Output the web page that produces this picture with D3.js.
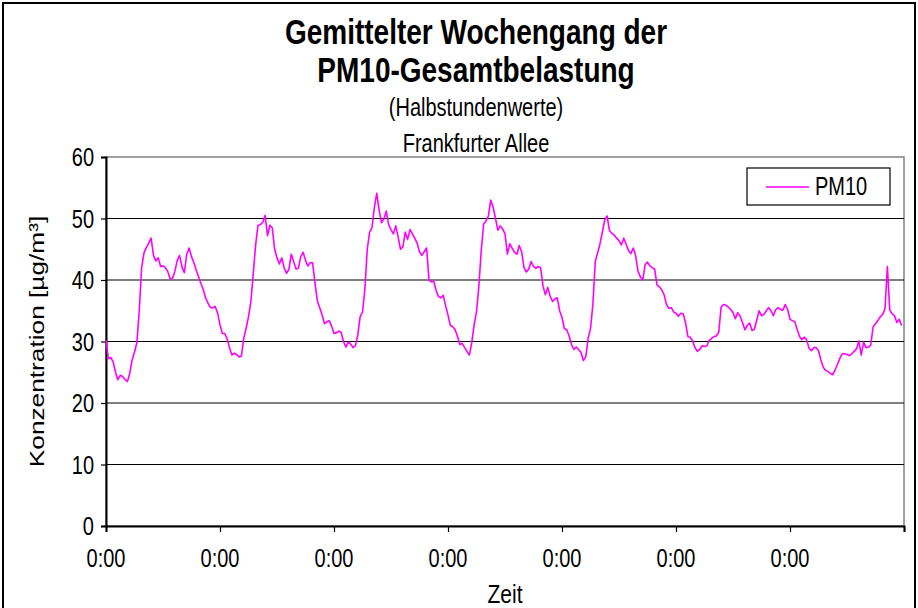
<!DOCTYPE html>
<html>
<head>
<meta charset="utf-8">
<script src="https://cdn.jsdelivr.net/npm/d3@7"></script>
<style>
  body { margin: 0; background: #fff; }
  svg { display: block; font-family: 'Liberation Sans', Arial, sans-serif; }
</style>
</head>
<body>
<div id="chart"></div>
<script>
// Halbstundenwerte, 48 je Tag
const day1 = [30.2, 27.2, 27.4, 26.7, 25.0, 23.8, 24.5, 24.3, 23.8, 23.5, 24.8, 27.0,
  28.3, 29.8, 35.0, 42.0, 44.4, 45.3, 46.0, 46.8, 44.0, 43.1, 43.6, 42.2,
  42.3, 42.0, 41.4, 40.2, 40.3, 41.4, 43.2, 44.0, 42.1, 41.2, 44.2, 45.2,
  43.8, 42.8, 41.6, 40.5, 39.4, 38.4, 37.0, 36.2, 35.5, 35.5, 35.7, 34.6];
const day2 = [32.7, 31.3, 31.3, 30.4, 29.0, 27.8, 28.1, 27.9, 27.5, 27.6, 30.5, 32.2,
  34.0, 36.5, 41.0, 45.7, 48.9, 49.0, 49.4, 50.5, 47.2, 48.9, 48.5, 45.0,
  43.6, 42.6, 43.6, 42.0, 41.1, 41.7, 44.2, 43.0, 41.8, 41.9, 43.8, 44.5,
  43.2, 42.3, 42.8, 42.8, 39.5, 36.6, 35.5, 34.3, 32.9, 33.2, 33.4, 32.5];
const day3 = [31.3, 31.4, 31.7, 31.5, 30.0, 29.1, 29.9, 29.6, 29.0, 29.3, 31.0, 34.0,
  34.8, 38.5, 45.0, 47.8, 48.5, 51.8, 54.1, 51.4, 49.3, 49.9, 51.2, 49.0,
  48.2, 47.5, 48.8, 47.0, 45.0, 45.4, 47.8, 46.6, 48.2, 47.5, 46.8, 46.0,
  44.6, 44.0, 44.6, 45.2, 40.0, 39.7, 39.8, 38.3, 37.3, 37.1, 37.5, 35.8];
const day4 = [34.3, 32.6, 32.4, 31.9, 30.8, 29.5, 29.7, 29.0, 28.4, 27.8, 29.8, 32.7,
  34.8, 39.0, 44.8, 49.1, 49.6, 50.4, 53.0, 51.8, 50.0, 48.1, 48.8, 48.3,
  47.5, 44.2, 45.9, 45.2, 44.5, 44.2, 45.6, 44.6, 42.0, 41.3, 41.8, 43.0,
  42.2, 41.9, 42.2, 42.0, 39.0, 37.6, 38.8, 37.4, 36.5, 36.9, 37.1, 35.0];
const day5 = [33.9, 32.1, 31.9, 30.9, 29.5, 28.7, 29.1, 28.7, 28.2, 26.9, 27.5, 30.5,
  32.1, 36.0, 43.0, 44.4, 45.9, 47.8, 49.8, 50.4, 48.0, 47.6, 47.3, 46.8,
  46.4, 45.7, 46.8, 45.8, 44.8, 44.3, 45.2, 44.0, 41.4, 40.5, 40.0, 42.5,
  42.9, 42.3, 42.0, 41.8, 39.2, 38.9, 38.4, 37.6, 36.0, 35.4, 35.5, 34.8];
const day6 = [34.6, 34.1, 34.6, 34.5, 33.1, 30.8, 30.7, 30.1, 29.0, 28.4, 28.7, 29.3,
  29.2, 29.3, 30.2, 30.5, 30.8, 30.9, 31.5, 35.6, 36.0, 35.9, 35.6, 35.2,
  34.7, 33.7, 34.7, 34.1, 33.1, 31.9, 32.6, 33.0, 31.8, 32.0, 33.5, 35.0,
  34.2, 34.4, 35.0, 35.5, 35.0, 34.2, 35.2, 35.5, 35.2, 35.1, 36.0, 35.2];
const day7 = [33.6, 33.4, 33.2, 32.0, 30.8, 30.3, 30.7, 30.3, 28.9, 28.5, 29.0, 29.0,
  28.5, 27.0, 25.8, 25.3, 25.1, 24.8, 24.6, 25.4, 26.3, 27.3, 28.0, 28.0,
  27.9, 27.7, 28.0, 28.4, 28.8, 30.1, 27.8, 29.9, 29.0, 29.1, 29.4, 32.4,
  32.9, 33.4, 34.0, 34.4, 35.3, 42.2, 35.1, 34.5, 34.2, 33.1, 33.6, 32.6];

const pm10 = [].concat(day1, day2, day3, day4, day5, day6, day7);
const dayLabels = ['0:00', '0:00', '0:00', '0:00', '0:00', '0:00', '0:00'];
const yTicks = [0, 10, 20, 30, 40, 50, 60];
const seriesName = 'PM10';

const width = 918, height = 608;
const margin = { top: 157, right: 14, bottom: 82, left: 106 };
const perDay = 48;
const stretch = 1.25; // Schrift im Original senkrecht gestreckt

const svg = d3.select('#chart').append('svg')
  .attr('width', width)
  .attr('height', height);

// text helper: stretched vertically like the original
function label(g, txt, px, py, size, opts = {}) {
  const t = g.append('text')
    .attr('transform', `translate(${px},${py}) scale(1,${stretch})` + (opts.rotate ? ` rotate(${opts.rotate})` : ''))
    .attr('text-anchor', opts.anchor || 'middle')
    .style('font-size', size + 'px')
    .style('font-weight', opts.bold ? 'bold' : 'normal')
    .attr('fill', '#000')
    .text(txt);
  return t;
}

// outer frame
svg.append('rect')
  .attr('x', 3).attr('y', 3)
  .attr('width', width - 6).attr('height', height + 20)
  .attr('fill', 'none')
  .attr('stroke', '#000')
  .attr('stroke-width', 2);

const x = d3.scaleLinear()
  .domain([0, pm10.length])
  .range([margin.left, width - margin.right]);

const y = d3.scaleLinear()
  .domain([0, 60])
  .range([height - margin.bottom, margin.top]);

// titles
label(svg, 'Gemittelter Wochengang der', 476, 44, 28, { bold: true });
label(svg, 'PM10-Gesamtbelastung', 476, 82, 28, { bold: true });
label(svg, '(Halbstundenwerte)', 476, 116, 20);
label(svg, 'Frankfurter Allee', 476, 152, 20);

// plot area border (gray top/right)
svg.append('rect')
  .attr('x', x.range()[0]).attr('y', y(60))
  .attr('width', x.range()[1] - x.range()[0])
  .attr('height', y(0) - y(60))
  .attr('fill', '#fff')
  .attr('stroke', '#808080')
  .attr('stroke-width', 1.5);

// gridlines
svg.append('g')
  .selectAll('line')
  .data(yTicks.filter(v => v > 0 && v < 60))
  .enter().append('line')
  .attr('x1', x.range()[0]).attr('x2', x.range()[1])
  .attr('y1', d => y(d)).attr('y2', d => y(d))
  .attr('stroke', '#000')
  .attr('stroke-width', 1.2);

// axes (labels drawn separately)
const yAxis = d3.axisLeft(y).tickValues(yTicks).tickSize(5).tickFormat('');
const gy = svg.append('g')
  .attr('transform', `translate(${x.range()[0]},0)`)
  .call(yAxis);
gy.select('.domain').attr('stroke', '#000').attr('stroke-width', 2);
gy.selectAll('.tick line').attr('stroke', '#000').attr('stroke-width', 1.2);

const xTicks = d3.range(0, pm10.length + 1, perDay);
const xAxis = d3.axisBottom(x).tickValues(xTicks).tickSize(6).tickFormat('');
const gx = svg.append('g')
  .attr('transform', `translate(0,${y(0)})`)
  .call(xAxis);
gx.select('.domain').attr('stroke', '#000').attr('stroke-width', 2);
gx.selectAll('.tick line').attr('stroke', '#000').attr('stroke-width', 1.2);

const tickG = svg.append('g');
yTicks.forEach(v => label(tickG, String(v), x.range()[0] - 12, y(v) + 9, 20, { anchor: 'end' }));
dayLabels.forEach((d, i) => label(tickG, d, x(xTicks[i]), 567, 20));

// axis titles
label(svg, 'Zeit', (x.range()[0] + x.range()[1]) / 2, 603, 21);
label(svg, 'Konzentration [µg/m³]', 44, (y(0) + y(60)) / 2 / stretch, 21, { rotate: -90 })
  .attr('transform', `translate(44,${(y(0) + y(60)) / 2}) scale(1,${stretch}) rotate(-90)`);

// series line
const line = d3.line()
  .x((d, i) => x(i))
  .y(d => y(d));

svg.append('path')
  .datum(pm10)
  .attr('d', line)
  .attr('fill', 'none')
  .attr('stroke', '#ff00ff')
  .attr('stroke-width', 1.6)
  .attr('stroke-linejoin', 'round');

// legend
const legend = svg.append('g').attr('transform', 'translate(747,168)');
legend.append('rect')
  .attr('width', 143).attr('height', 37)
  .attr('fill', '#fff')
  .attr('stroke', '#000')
  .attr('stroke-width', 1.2);
legend.append('line')
  .attr('x1', 19).attr('x2', 62)
  .attr('y1', 19).attr('y2', 19)
  .attr('stroke', '#ff00ff')
  .attr('stroke-width', 1.6);
label(legend, seriesName, 68, 27, 20, { anchor: 'start' });
</script>
</body>
</html>
